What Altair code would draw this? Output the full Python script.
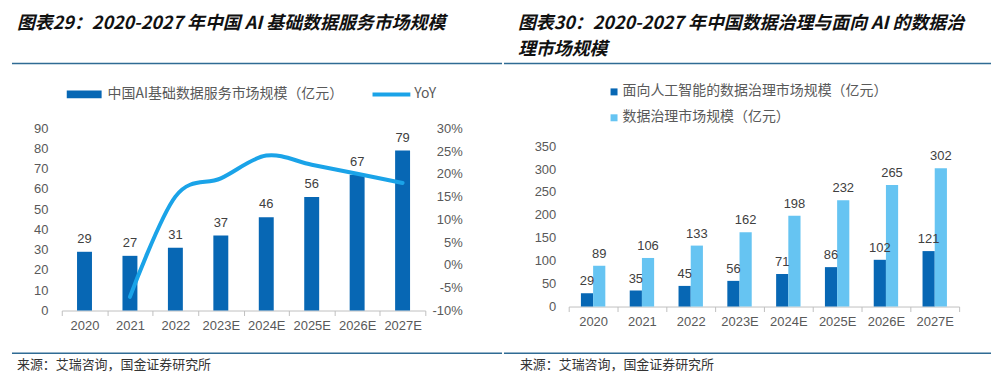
import altair as alt
import pandas as pd

# ---------------- data ----------------
years = ["2020", "2021", "2022", "2023E", "2024E", "2025E", "2026E", "2027E"]
base_size = [29, 27, 31, 37, 46, 56, 67, 79]          # 中国AI基础数据服务市场规模（亿元）
base_yoy = [None, -7, 15, 19, 24, 22, 20, 18]         # YoY (%)
ai_gov = [29, 35, 45, 56, 71, 86, 102, 121]           # 面向人工智能的数据治理市场规模
gov = [89, 106, 133, 162, 198, 232, 265, 302]         # 数据治理市场规模

left_ticks = [0, 10, 20, 30, 40, 50, 60, 70, 80, 90]
yoy_ticks = [-10, -5, 0, 5, 10, 15, 20, 25, 30]
right_ticks = [0, 50, 100, 150, 200, 250, 300, 350]

title_left = "图表29：2020-2027 年中国 AI 基础数据服务市场规模"
title_right_1 = "图表30：2020-2027 年中国数据治理与面向 AI 的数据治"
title_right_2 = "理市场规模"
legend_left = ["中国AI基础数据服务市场规模（亿元）", "YoY"]
legend_right = ["面向人工智能的数据治理市场规模（亿元）", "数据治理市场规模（亿元）"]
source = "来源：艾瑞咨询，国金证券研究所"

# ---------------- styles ----------------
DARK = "#0767B4"
LIGHT = "#66C4F2"
LINE = "#1AA3E8"
SEP = "#2F6B94"
CJK = "Noto Sans CJK SC"
NUM = "Liberation Sans"
AX = "#595959"
GRAYLINE = "#BFBFBF"


def txt(s, x, y, size, color, bold=False, italic=False, align="left"):
    return alt.Chart(pd.DataFrame({"t": [s]})).mark_text(
        align=align, baseline="middle", fontSize=size, font=CJK,
        fontWeight="bold" if bold else "normal",
        fontStyle="italic" if italic else "normal", color=color,
    ).encode(x=alt.value(x), y=alt.value(y), text="t:N")


def hrule(x1, x2, y, color=SEP, w=1.5):
    return alt.Chart(pd.DataFrame({"a": [0]})).mark_rule(color=color, strokeWidth=w).encode(
        x=alt.value(x1), x2=alt.value(x2), y=alt.value(y))


def box(x1, x2, y1, y2, color):
    return alt.Chart(pd.DataFrame({"a": [0]})).mark_rect(color=color).encode(
        x=alt.value(x1), x2=alt.value(x2), y=alt.value(y1), y2=alt.value(y2))


x_axis = alt.Axis(title=None, labelAngle=0, tickBand="extent", ticks=True, tickSize=5,
                  labelPadding=4, labelFont=NUM, labelFontSize=13, labelColor=AX,
                  domainColor=GRAYLINE, tickColor=GRAYLINE, labelOverlap=False)

# ---------------- left panel ----------------
LW, LH = 365, 183
df_left = pd.DataFrame({"year": years, "size": base_size, "yoy": base_yoy})
xl = alt.X("year:N", sort=years, scale=alt.Scale(paddingInner=0, paddingOuter=0), axis=x_axis)
yl = alt.Y("size:Q", scale=alt.Scale(domain=[0, 90], nice=False),
           axis=alt.Axis(values=left_ticks, title=None, domain=False, ticks=False, grid=False,
                         labelOverlap=False, labelPadding=14, labelFont=NUM,
                         labelFontSize=13, labelColor=AX))

bars_l = alt.Chart(df_left).mark_bar(size=15, color=DARK).encode(x=xl, y=yl)
labels_l = alt.Chart(df_left).mark_text(baseline="bottom", dy=-6, fontSize=13, font=NUM,
                                        color="#404040").encode(x=xl, y=yl, text="size:Q")

line_l = alt.Chart(df_left).transform_filter("isValid(datum.yoy)").mark_line(
    color=LINE, strokeWidth=4, interpolate="cardinal", strokeCap="round").encode(
    x=xl,
    y=alt.Y("yoy:Q", scale=alt.Scale(domain=[-10, 30], nice=False),
            axis=alt.Axis(orient="right", values=yoy_ticks, labelExpr="datum.value + '%'",
                          title=None, domain=False, ticks=False, grid=False, labelAlign="right",
                          labelOverlap=False, labelPadding=37, labelFont=NUM,
                          labelFontSize=13, labelColor=AX)),
)

decor_l = [
    txt(title_left, -45, -105, 18, "#111111", bold=True, italic=True),
    hrule(-50, 442, -65),
    box(5, 40, -38, -30, DARK),
    txt(legend_left[0], 46, -34, 14, AX),
    hrule(312, 350, -34, LINE, 4),
    txt(legend_left[1], 354, -34, 14, AX),
    hrule(-50, 442, 226),
    txt(source, -45, 238, 13, "#333333"),
]

left = alt.layer(alt.layer(bars_l, labels_l), line_l, *decor_l).resolve_scale(
    y="independent").properties(width=LW, height=LH)

# ---------------- right panel ----------------
RW, RH = 392, 179
rows = []
for y_, a_, g_ in zip(years, ai_gov, gov):
    rows.append({"year": y_, "series": legend_right[0], "value": a_})
    rows.append({"year": y_, "series": legend_right[1], "value": g_})
df_right = pd.DataFrame(rows)

xr = alt.X("year:N", sort=years, scale=alt.Scale(paddingInner=0, paddingOuter=0), axis=x_axis)
xo = alt.XOffset("series:N", sort=legend_right, scale=alt.Scale(paddingInner=0, paddingOuter=1))
yr = alt.Y("value:Q", scale=alt.Scale(domain=[0, 350], nice=False, range=[RH, 18]),
           axis=alt.Axis(values=right_ticks, title=None, domain=False, ticks=False, grid=False,
                         labelOverlap=False, labelPadding=13, labelFont=NUM,
                         labelFontSize=13, labelColor=AX))

bars_r = alt.Chart(df_right).mark_bar().encode(
    x=xr, xOffset=xo, y=yr,
    color=alt.Color("series:N", scale=alt.Scale(domain=legend_right, range=[DARK, LIGHT]),
                    legend=None),
)
labels_r = alt.Chart(df_right).mark_text(baseline="bottom", dy=-5, fontSize=13, font=NUM,
                                         color="#404040").encode(
    x=xr, xOffset=xo, y=yr, text="value:Q")

decor_r = [
    txt(title_right_1, -51, -105, 18, "#111111", bold=True, italic=True),
    txt(title_right_2, -51, -79, 18, "#111111", bold=True, italic=True),
    hrule(-65, 424, -65),
    box(42, 49, -40, -33, DARK),
    txt(legend_right[0], 54, -37, 14, AX),
    box(42, 49, -14, -7, LIGHT),
    txt(legend_right[1], 54, -11, 14, AX),
    hrule(-65, 424, 226),
    txt(source, -49, 238, 13, "#333333"),
]

right = alt.layer(bars_r, labels_r, *decor_r).properties(width=RW, height=RH)

chart = alt.hconcat(left, right, spacing=0).properties(
    padding={"left": 3, "top": 6, "right": 0, "bottom": 0}
).configure_view(stroke=None).configure_axis(grid=False)

chart.save("out.html", embed_options={"renderer": "svg", "actions": False})
